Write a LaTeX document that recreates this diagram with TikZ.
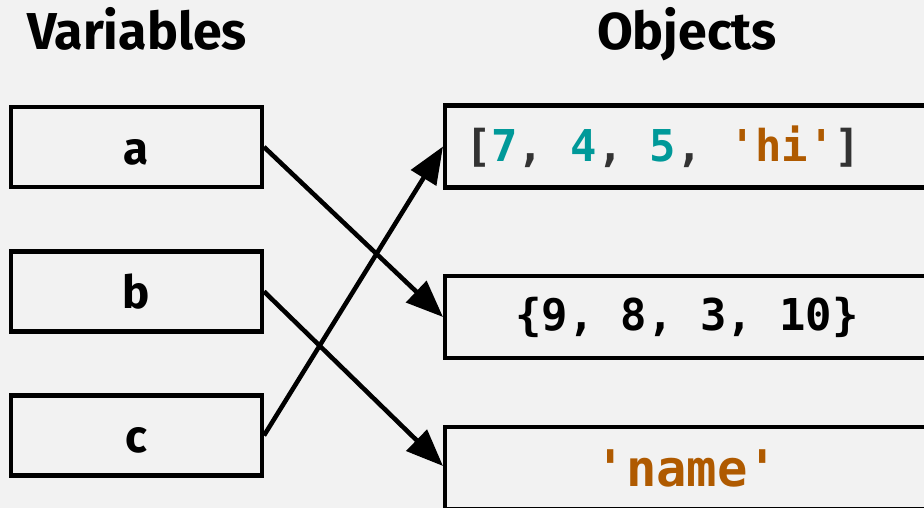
\documentclass[tikz,border=0pt]{standalone}
\usepackage{fontspec}
\setmainfont{Fira Sans}
\setmonofont{DejaVu Sans Mono}
\usepackage{xcolor}
\usetikzlibrary{arrows.meta}
\definecolor{Paper}{HTML}{F2F2F2}
\definecolor{Graphite}{HTML}{333333}
\definecolor{Teal}{HTML}{009999}
\definecolor{Rust}{HTML}{AF5A00}

\begin{document}
\begin{tikzpicture}[x=1in,y=1in,
  varbox/.style={draw=black,line width=2.9pt,minimum width=2.51in,minimum height=0.80in,inner sep=0pt,text height=0.35in,text depth=0pt,font=\bfseries\fontsize{33}{36}\selectfont},
  objbox/.style={draw=black,line width=2.9pt,minimum width=4.84in,minimum height=0.82in,inner sep=0pt,font=\ttfamily\bfseries\fontsize{31.7}{34}\selectfont},
  heading/.style={anchor=base,font=\bfseries\fontsize{37.5}{40}\selectfont},
  ref/.style={-{Triangle[length=0.37in,width=0.29in]},line width=3.3pt}]
\fill[Paper] (0,0) rectangle (9.24,5.08);
\clip (0,0) rectangle (9.24,5.08);
% column headings
\node[heading] (vhead) at (1.37,4.58) {Variables};
\node[heading] (ohead) at (6.87,4.58) {Objects};
% names on the left
\node[varbox] (a) at (1.365,3.61) {a};
\node[varbox] (b) at (1.365,2.165) {b};
\node[varbox] (c) at (1.365,0.725) {c};
% values on the right, running off the edge
\node[objbox,inner xsep=0.20in] (lst) at (6.87,3.615) {\makebox[4.44in][l]{\color{Graphite}[\textcolor{Teal}{7}, \textcolor{Teal}{4}, \textcolor{Teal}{5}, \textcolor{Rust}{\textquotesingle hi\textquotesingle}]}};
\node[objbox] (set) at (6.87,1.91) {\{9, 8, 3, 10\}};
\node[objbox,font=\ttfamily\bfseries\fontsize{36.5}{39}\selectfont,text=Rust] (str) at (6.87,0.40) {\textquotesingle name\textquotesingle};
\draw[ref] (a.east) -- (set.west);
\draw[ref] (b.east) -- ([yshift=0.02in]str.west);
\draw[ref] (c.east) -- (lst.west);
\end{tikzpicture}
\end{document}
